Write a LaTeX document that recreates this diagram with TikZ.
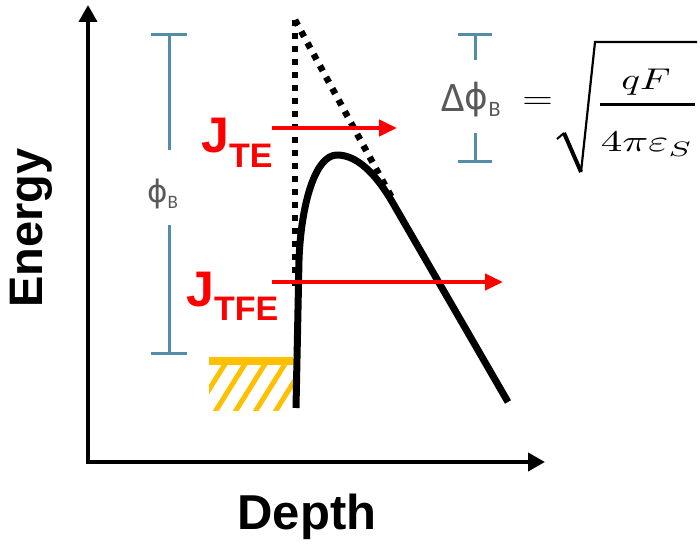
\documentclass[tikz,border=0pt]{standalone}
\usepackage{amsmath}
\usepackage{graphicx}
\usepackage[no-math]{fontspec}
\setmainfont{Liberation Sans}
\newfontfamily\carl{Carlito}
\newfontfamily\dvs{DejaVu Sans}
\usetikzlibrary{arrows.meta}
\definecolor{barblue}{RGB}{84,141,170}
\definecolor{txtgray}{RGB}{89,89,89}
\definecolor{gold}{RGB}{255,192,0}
\definecolor{jred}{RGB}{255,0,0}
\begin{document}
\begin{tikzpicture}[x=1pt,y=-1pt,
  axis/.style={line width=4pt,{Triangle[length=17pt,width=18pt]}-{Triangle[length=17pt,width=18pt]}},
  barline/.style={barblue,line width=3pt},
  redarrow/.style={jred,line width=4pt,-{Triangle[length=18pt,width=16pt]}},
  curve/.style={line width=7pt,line join=round},
  dotline/.style={line width=6.5pt,line cap=butt,dash pattern=on 6pt off 7pt},
  hatch/.style={gold,line width=5pt},
  axlab/.style={font=\bfseries,inner sep=0pt},
  jlab/.style={jred,font=\bfseries\fontsize{50}{50}\selectfont,inner sep=0pt},
  glab/.style={txtgray,inner sep=0pt},
  mathlab/.style={inner sep=0pt}]
\useasboundingbox (0,0) rectangle (700,545);

% axes
\coordinate (ytop) at (88,5);
\coordinate (orig) at (88,462);
\coordinate (xend) at (545,462);
\draw[axis] (ytop) -- (orig) -- (xend);
\node[axlab,rotate=90,anchor=base,font=\bfseries\fontsize{47}{47}\selectfont] (energy) at (42,228) {Energy};
\node[axlab,anchor=base,font=\bfseries\fontsize{49}{49}\selectfont] (depth) at (307,529) {Depth};

% hatched metal
\coordinate (mL) at (209,361);
\coordinate (mR) at (293,361);
\draw[gold,line width=8pt] (mL) -- (mR);
\begin{scope}
\clip (209,364) rectangle (293,410);
\foreach \b in {175,195,215,235,255,275,295}{
  \draw[hatch] (\b,412) -- ++(30,-48);
}
\end{scope}

% dotted barrier (no image force)
\coordinate (apex) at (295,20);
\coordinate (vbot) at (295,292);
\coordinate (dend) at (392,198);
\draw[dotline] (apex) -- (vbot);
\draw[dotline] (apex) -- (dend);

% barrier with image force lowering
\coordinate (c0) at (296,408);
\coordinate (c1) at (299,260);
\coordinate (cpk) at (337,155);
\coordinate (c2) at (394,205);
\coordinate (c3) at (508,402);
\draw[curve] (c0) -- (c1) .. controls (301,205) and (315,155) .. (cpk)
  .. controls (355,155) and (374,170) .. (c2) -- (c3);

% phi_B bar
\coordinate (pbT) at (169,35);
\coordinate (pbTm) at (169,150);
\coordinate (pbBm) at (169,225);
\coordinate (pbB) at (169,353);
\draw[barline] (151,35) -- (187,35);
\draw[barline] (pbT) -- (pbTm);
\draw[barline] (pbBm) -- (pbB);
\draw[barline] (151,353) -- (187,353);
\node[glab,anchor=base west] (phib) at (147,202) {{\dvs\fontsize{31}{31}\selectfont ϕ}\raisebox{-6pt}{\carl\fontsize{19}{19}\selectfont B}};

% Delta phi_B bar
\coordinate (dbT) at (475,35);
\coordinate (dbTm) at (475,60);
\coordinate (dbBm) at (475,133);
\coordinate (dbB) at (475,162);
\draw[barline] (458,35) -- (492,35);
\draw[barline] (dbT) -- (dbTm);
\draw[barline] (dbBm) -- (dbB);
\draw[barline] (458,162) -- (492,162);
\node[glab,anchor=base west] (dphib) at (441,112) {{\carl\fontsize{42}{42}\selectfont Δ}{\dvs\fontsize{36}{36}\selectfont\raisebox{2pt}{ϕ}}\raisebox{-5pt}{\carl\fontsize{22}{22}\selectfont B}};

% = sqrt(qF / 4 pi eps_S)
\node[mathlab] (eqsign) at (537.5,103) {\resizebox{31pt}{11pt}{$=$}};
\coordinate (r0) at (557,139);
\coordinate (r1) at (564,133);
\coordinate (r2) at (581,172);
\coordinate (r3) at (595,42);
\coordinate (r4) at (697,42);
\draw[line width=2pt,line join=miter] (r0) -- (r1);
\draw[line width=4pt] (r1) -- (r2);
\draw[line width=2.2pt,line join=miter] (r2) -- (r3) -- (r4);
\coordinate (fb0) at (600,105);
\coordinate (fb1) at (695,105);
\draw[line width=3pt] (fb0) -- (fb1);
\node[mathlab,anchor=base] (num) at (646,90) {\scalebox{3.9}[3.0]{$qF$}};
\node[mathlab,anchor=base] (den) at (647,152) {\scalebox{4.3}[3.0]{$4\pi\varepsilon_S$}};

% currents
\node[jlab,anchor=base west] (jte) at (201,153) {J\raisebox{-15pt}{\fontsize{34}{34}\selectfont TE}};
\node[jlab,anchor=base west] (jtfe) at (186,306) {J\raisebox{-14pt}{\fontsize{34}{34}\selectfont TFE}};
\coordinate (teS) at (272,128);
\coordinate (teE) at (397,128);
\coordinate (tfeS) at (272,282);
\coordinate (tfeE) at (503,282);
\draw[redarrow] (teS) -- (teE);
\draw[redarrow] (tfeS) -- (tfeE);
\end{tikzpicture}
\end{document}
